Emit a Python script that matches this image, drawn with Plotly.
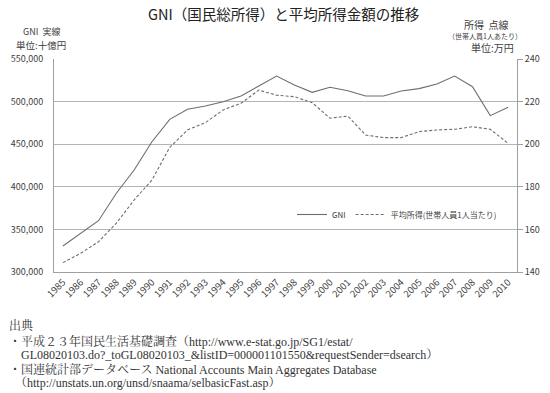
import plotly.graph_objects as go

years = [str(y) for y in range(1985, 2011)]
gni = [330500, 345400, 360200, 392400, 419700, 452900, 479200, 491000, 494800, 499900,
       506600, 518300, 530000, 519500, 510900, 516800, 512800, 506600, 506600, 512400,
       515200, 520700, 530000, 517500, 483500, 493300]
income = [144.4, 148.8, 154.2, 162.9, 173.8, 183.2, 198.5, 206.7, 210.1, 216.1,
          219.2, 225.4, 223.0, 222.3, 219.5, 212.2, 213.2, 204.3, 203.1, 203.1,
          205.9, 206.7, 207.0, 208.2, 207.0, 200.4]
left_ticks = [300000, 350000, 400000, 450000, 500000, 550000]
right_ticks = [140, 160, 180, 200, 220, 240]

W, H = 550, 393
L, R, T, B = 54, 517, 59, 272
PW, PH = R - L, B - T

def px(x):
    return (x - L) / PW

def py(y):
    return (B - y) / PH

font_jp = "Noto Sans CJK JP, Noto Sans, sans-serif"
serif = "Liberation Serif, Noto Serif CJK JP, Noto Sans CJK JP, serif"
line_col = "#6e6e6e"
text_col = "#404040"

fig = go.Figure()
fig.add_trace(go.Scatter(x=years, y=gni, mode="lines", name="GNI",
                         line=dict(color=line_col, width=1.1)))
fig.add_trace(go.Scatter(x=years, y=income, mode="lines", name="平均所得(世帯人員1人当たり)",
                         yaxis="y2", line=dict(color=line_col, width=1.1, dash="3px,2px")))

fig.update_layout(
    width=W, height=H,
    margin=dict(l=L, r=W - R, t=T, b=H - B, autoexpand=False),
    paper_bgcolor="white", plot_bgcolor="white",
    font=dict(family=font_jp, size=9, color=text_col),
    showlegend=True,
    legend=dict(orientation="h", x=px(292), y=py(200), xanchor="left", yanchor="top",
                bgcolor="white", font=dict(size=8, color=text_col),
                itemwidth=30, tracegroupgap=0),
    xaxis=dict(type="category", range=[-0.5, 25.5], tickangle=-45, automargin=False,
               showline=True, linecolor="#a0a0a0", linewidth=1,
               showgrid=False, ticks="", tickfont=dict(size=9.5, color=text_col)),
    yaxis=dict(range=[300000, 550000], tickvals=left_ticks, tickformat=",", automargin=False,
               showgrid=True, gridcolor="#b4b4b4", gridwidth=1,
               showline=True, linecolor="#a0a0a0", linewidth=1,
               ticks="", ticklabelstandoff=8, tickfont=dict(size=9, color=text_col),
               zeroline=False),
    yaxis2=dict(range=[140, 240], tickvals=right_ticks, overlaying="y", side="right",
                automargin=False,
                showgrid=False, showline=True, linecolor="#a0a0a0", linewidth=1,
                ticks="outside", ticklen=5, tickcolor="#a0a0a0",
                tickfont=dict(size=9, color=text_col), zeroline=False),
)

ann = []
def add(text, x, y, size=9, xanchor="center", family=font_jp, color=text_col):
    ann.append(dict(text=text, x=px(x), y=py(y), xref="paper", yref="paper",
                    xanchor=xanchor, yanchor="middle", showarrow=False,
                    font=dict(size=size, family=family, color=color)))

add("GNI（国民総所得）と平均所得金額の推移", 283, 13, size=14.5, color="#222222")
add("GNI  実線", 41, 32, size=9)
add("単位:十億円", 41, 45, size=9.5)
add("所得  点線", 486, 24, size=10)
add("（世帯人員1人あたり）", 485, 36, size=7)
add("単位:万円", 492, 48, size=10)

src = [
    ("出典", 325, 7),
    ("・平成２３年国民生活基礎調査（http://www.e-stat.go.jp/SG1/estat/", 341, 7),
    ("　GL08020103.do?_toGL08020103_&listID=000001101550&requestSender=dsearch）", 355, 7),
    ("・国連統計部データベース National Accounts Main Aggregates Database", 369, 7),
    ("　（http://unstats.un.org/unsd/snaama/selbasicFast.asp）", 383, 7),
]
for t, y, x in src:
    add(t, x, y, size=12, xanchor="left", family=serif, color="#333333")

fig.update_layout(annotations=ann)
fig.write_html("out.html", config={"displayModeBar": False},
               post_script="document.body.style.margin='0';document.body.style.overflow='hidden';")
